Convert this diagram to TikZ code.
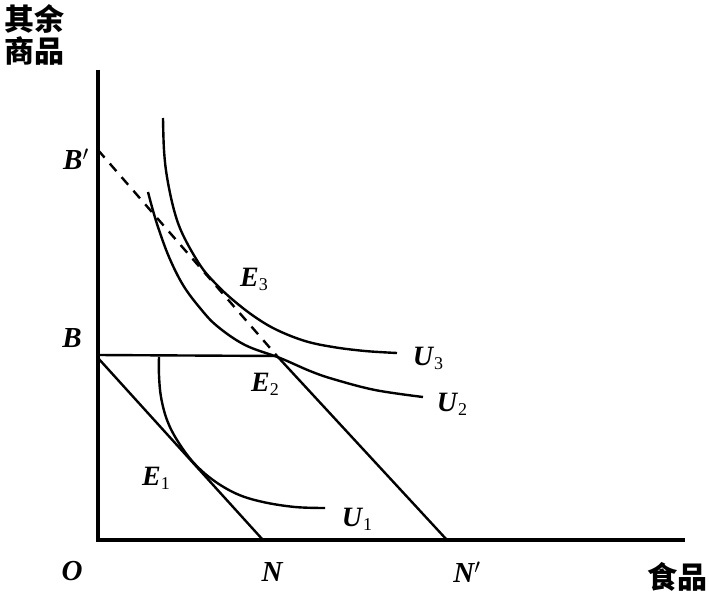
\documentclass[tikz,border=0pt]{standalone}
\usepackage{fontspec}
\setmainfont{Liberation Serif}
\newfontfamily\cjk{Noto Sans CJK SC}
\newcommand\sublab[2]{\textbf{\textit{#1}}\raisebox{-0.3ex}{\fontsize{18}{18}\selectfont #2}}
\begin{document}
\begin{tikzpicture}[x=1pt,y=-1pt,
  axis/.style={line width=3.2pt},
  curve/.style={line width=2.4pt},
  budget/.style={line width=2.4pt},
  dashedline/.style={line width=2.4pt,dash pattern=on 10pt off 8pt},
  axlab/.style={font=\fontsize{29}{29}\selectfont\bfseries\itshape},
  ptlab/.style={font=\fontsize{28}{28}\selectfont},
  cjklab/.style={font=\cjk\bfseries\fontsize{30}{34}\selectfont,align=left}]
\useasboundingbox (0,0) rectangle (709,592);
% key coordinates
\coordinate (O) at (98,540);
\coordinate (Ytop) at (98,70);
\coordinate (Xend) at (685,540);
\coordinate (Bp) at (98,150);
\coordinate (B) at (98,355);
\coordinate (Bb) at (98,358);
\coordinate (E2) at (277,356);
\coordinate (N) at (263,540);
\coordinate (Np) at (447,540);
% axes
\draw[axis] (Ytop) -- (O) -- (Xend);
% budget lines
\draw[budget] (B) -- (E2);
\draw[budget] (Bb) -- (N);
\draw[budget] (E2) -- (Np);
\draw[dashedline] (Bp) -- (E2);
% indifference curves
\draw[curve] plot[smooth,tension=0.6] coordinates {(163,118) (164,150) (167,177) (174,210) (183,235) (200,265) (215,283) (233,300) (255,317) (277,330) (305,341) (333,347) (365,351) (397,353)};
\draw[curve] plot[smooth,tension=0.6] coordinates {(148,192) (152,207) (158,227) (169,257) (183,285) (200,308) (217,326) (245,345) (280,358) (310,371) (333,379) (375,390) (423,397)};
\draw[curve] plot[smooth,tension=0.6] coordinates {(159,357) (159,375) (161,397) (167,420) (177,440) (193,462) (213,480) (237,494) (263,502) (295,507) (325,508)};
% labels
\node[cjklab,anchor=north west] (ylab) at (1,1) {其余\\[-2pt]商品};
\node[cjklab,anchor=base] (xlab) at (677,588) {食品};
\node[axlab] (Olab) at (72,571) {O};
\node[axlab] (Nlab) at (272,572) {N};
\node[axlab] (Nplab) at (467,572) {N$'$};
\node[axlab] (Bplab) at (76,159) {B$'$};
\node[axlab] (Blab) at (72,338) {B};
\node[ptlab] (E3lab) at (254,279) {\sublab{E}{3}};
\node[ptlab] (E2lab) at (265,384) {\sublab{E}{2}};
\node[ptlab] (E1lab) at (156,478) {\sublab{E}{1}};
\node[ptlab] (U3lab) at (428,358) {\sublab{U}{3}};
\node[ptlab] (U2lab) at (452,404) {\sublab{U}{2}};
\node[ptlab] (U1lab) at (357,519) {\sublab{U}{1}};
\end{tikzpicture}
\end{document}
